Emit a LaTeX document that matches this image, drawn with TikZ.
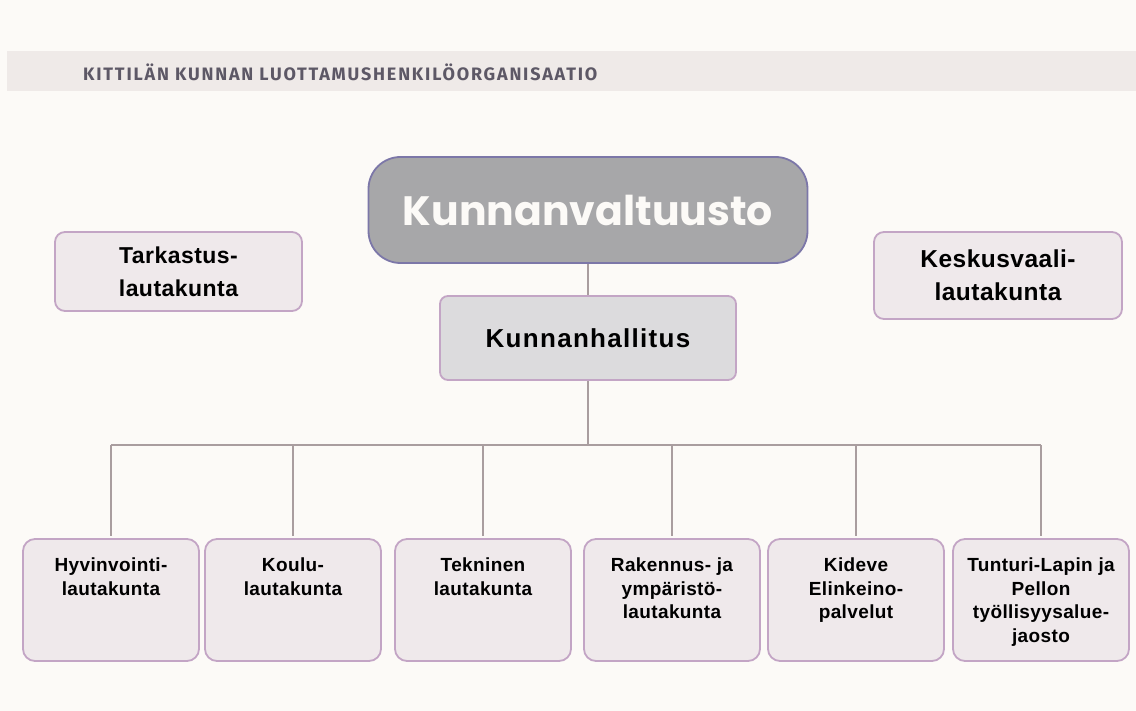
\documentclass[tikz,border=0pt]{standalone}
\usepackage{fontspec}
\setmainfont{Liberation Sans}
\newfontfamily\titlefont{Poppins}
\newfontfamily\headfont[LetterSpace=10]{Fira Sans}
\newfontfamily\halfont[LetterSpace=5]{Liberation Sans}
\newfontfamily\boxfont[LetterSpace=2]{Liberation Sans}
\definecolor{bgcol}{HTML}{FCFAF7}
\definecolor{bandcol}{HTML}{EFEAE8}
\definecolor{headcol}{HTML}{5D5866}
\definecolor{valfill}{HTML}{A7A7A9}
\definecolor{valdraw}{HTML}{7C77A8}
\definecolor{halfill}{HTML}{DCDBDD}
\definecolor{boxfill}{HTML}{EFE9EB}
\definecolor{boxdraw}{HTML}{C3A5C5}
\definecolor{linecol}{HTML}{A99D9F}
\newcommand{\toptext}[1]{\parbox[c][84pt][t]{172pt}{\centering\boxfont\bfseries\fontsize{19}{23.5}\selectfont #1}}
\begin{document}
\begin{tikzpicture}[x=1pt,y=-1pt,
  conn/.style={draw=linecol,line width=2pt},
  sidebox/.style={draw=boxdraw,fill=boxfill,line width=1.8pt,rounded corners=10pt,align=center,
    font=\boxfont\bfseries\fontsize{23}{33}\selectfont},
  lowbox/.style={draw=boxdraw,fill=boxfill,line width=1.8pt,rounded corners=12pt,
    minimum width=176pt,minimum height=122pt,inner sep=0pt}]
\fill[bgcol] (0,0) rectangle (1136,711);
\useasboundingbox (0,0) rectangle (1136,711);
\fill[bandcol] (7,51) rectangle (1136,91);
\node[anchor=west,text=headcol,inner sep=0pt,font=\headfont\bfseries\fontsize{18}{18}\selectfont] (head) at (83,72) {KITTILÄN KUNNAN LUOTTAMUSHENKILÖORGANISAATIO};
% ylin taso
\node[draw=valdraw,fill=valfill,line width=1.8pt,rounded corners=32pt,minimum width=439pt,minimum height=106pt,
  text=bgcol,font=\titlefont\bfseries\fontsize{41}{41}\selectfont] (val) at (588,210) {Kunnanvaltuusto};
\node[draw=boxdraw,fill=halfill,line width=1.8pt,rounded corners=8pt,minimum width=296pt,minimum height=84pt,
  font=\halfont\bfseries\fontsize{26}{26}\selectfont] (hal) at (588,338) {Kunnanhallitus};
\node[sidebox,minimum width=247pt,minimum height=79pt] (tar) at (178.5,271.5) {Tarkastus-\\lautakunta};
\node[sidebox,minimum width=248pt,minimum height=87pt,font=\boxfont\bfseries\fontsize{24.5}{33}\selectfont] (kes) at (998,275.5) {Keskusvaali-\\lautakunta};
% lautakunnat
\node[lowbox] (b1) at (111,600) {\toptext{Hyvinvointi-\\lautakunta}};
\node[lowbox] (b2) at (293,600) {\toptext{Koulu-\\lautakunta}};
\node[lowbox] (b3) at (483,600) {\toptext{Tekninen\\lautakunta}};
\node[lowbox] (b4) at (672,600) {\toptext{Rakennus- ja\\ympäristö-\\lautakunta}};
\node[lowbox] (b5) at (856,600) {\toptext{Kideve\\Elinkeino-\\palvelut}};
\node[lowbox] (b6) at (1041,600) {\toptext{Tunturi-Lapin ja\\Pellon\\työllisyysalue-\\jaosto}};
\coordinate (bus) at (588,445);
\draw[conn] (val.south) -- (hal.north);
\draw[conn] (hal.south) -- (bus);
\draw[conn] (b1.north |- bus) -- (b6.north |- bus);
\foreach \i in {1,...,6}
  \draw[conn] (b\i.north |- bus) -- ([yshift=2pt]b\i.north);
\end{tikzpicture}
\end{document}
